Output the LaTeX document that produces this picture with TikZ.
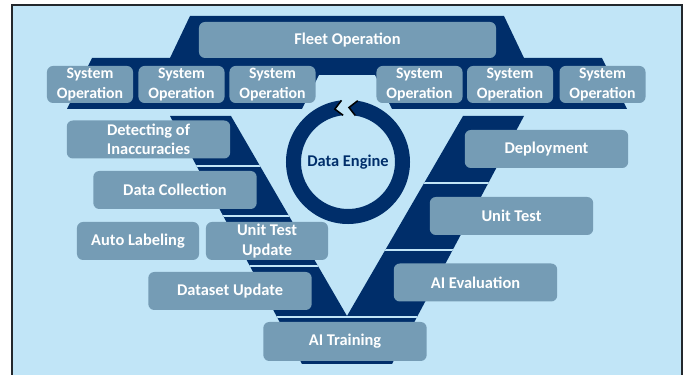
\documentclass[tikz,border=0pt]{standalone}
\usepackage{fontspec}
\setmainfont{Carlito}
\usepackage{xcolor}
\usepackage{tikz}
\usetikzlibrary{shapes,calc}
\definecolor{bgBlue}{RGB}{193,229,247}
\definecolor{deNavy}{RGB}{0,46,106}
\definecolor{boxBlue}{RGB}{117,156,181}
\definecolor{frameGray}{RGB}{35,40,45}
\tikzstyle{tsBoldText} = [
    text=white,
    font=\bfseries\fontsize{14}{16.5}\selectfont
]
\tikzstyle{tsBox} = [
    rectangle,
    tsBoldText,
    rounded corners=0.18cm,
    fill=boxBlue,
    align=center,
    inner sep=0pt]
\tikzstyle{tsStepBox} = [
    tsBox,
    minimum width=4.9cm,
    minimum height=1.14cm]
\tikzstyle{tsHalfBox} = [
    tsBox,
    minimum width=3.66cm,
    minimum height=1.14cm]
\tikzstyle{tsSysBox} = [
    tsBox,
    font=\bfseries\fontsize{13.5}{16.5}\selectfont,
    minimum width=2.58cm,
    minimum height=1.11cm]
\tikzstyle{tsGap} = [
    draw=bgBlue,
    line width=1.7pt]

\begin{document}
\begin{tikzpicture}[x=0.03cm, y=-0.03cm]
        \useasboundingbox (0,0) rectangle (686,375);
        % background and frame
        \fill[white] (0,0) rectangle (686,375);
        \fill[bgBlue] (12,5) rectangle (682,375);
        \draw[frameGray, line width=1.2pt] (12,375) -- (12,5) -- (682,5) -- (682,375);

        % top band behind the operation boxes
        \fill[deNavy] (190,16) -- (504,16) -- (524,58) -- (602,58) -- (627,109)
                   -- (392,109) -- (375,75) -- (319,75) -- (302,109) -- (67,109)
                   -- (92,58) -- (170,58) -- cycle;

        % the V
        \coordinate (vOutL) at (170,116);
        \coordinate (vInL) at (231,116);
        \coordinate (vTip) at (347,316);
        \coordinate (vInR) at (463,116);
        \coordinate (vOutR) at (524,116);
        \coordinate (vBotR) at (392,364);
        \coordinate (vBotL) at (302,364);
        \fill[deNavy] (vOutL) -- (vInL) -- (vTip) -- (vInR) -- (vOutR) -- (vBotR) -- (vBotL) -- cycle;
        \begin{scope}
            \clip (vOutL) -- (vInL) -- (vTip) -- (vInR) -- (vOutR) -- (vBotR) -- (vBotL) -- cycle;
            \draw[tsGap] (100,166) -- (347,166);
            \draw[tsGap] (100,216) -- (347,216);
            \draw[tsGap] (100,266) -- (347,266);
            \draw[tsGap] (347,183) -- (600,183);
            \draw[tsGap] (347,250) -- (600,250);
            \draw[tsGap] (200,317) -- (500,317);
        \end{scope}

        % data engine ring
        \node[font=\bfseries\fontsize{14}{16.5}\selectfont, text=deNavy] (engine) at (348,162) {Data Engine};
        \begin{scope}[shift={(engine.center)}]
            \fill[deNavy] (96:1.86cm) arc[start angle=96, end angle=441, radius=1.86cm]
                       -- (449:1.635cm) -- (441:1.41cm)
                       arc[start angle=441, end angle=96, radius=1.41cm]
                       -- (104:1.635cm) -- cycle;
            \draw[black, line width=1.3pt] (96:1.86cm) -- (104:1.635cm) -- (96:1.41cm);
            \draw[black, line width=1.3pt] (81:1.86cm) -- (89:1.635cm) -- (81:1.41cm);
        \end{scope}

        % operation boxes
        \node[tsBox, minimum width=8.91cm, minimum height=1.08cm] (fleet) at (347.5,40) {Fleet Operation};
        \node[tsSysBox] (sys1) at (90,84.5) {System\\Operation};
        \node[tsSysBox] (sys2) at (181.5,84.5) {System\\Operation};
        \node[tsSysBox] (sys3) at (272.5,84.5) {System\\Operation};
        \node[tsSysBox] (sys4) at (419.5,84.5) {System\\Operation};
        \node[tsSysBox] (sys5) at (510,84.5) {System\\Operation};
        \node[tsSysBox] (sys6) at (602.5,84.5) {System\\Operation};

        % left arm
        \node[tsStepBox] (detect) at (148.5,139.5) {Detecting of\\Inaccuracies};
        \node[tsStepBox] (collect) at (175,190) {Data Collection};
        \node[tsHalfBox] (label) at (138,241) {Auto Labeling};
        \node[tsHalfBox] (utUpdate) at (267,241) {Unit Test\\Update};
        \node[tsStepBox] (dsUpdate) at (230,291) {Dataset Update};
        \node[tsStepBox, minimum height=1.17cm] (training) at (345,341.5) {AI Training};

        % right arm
        \node[tsStepBox] (deploy) at (546.5,149) {Deployment};
        \node[tsStepBox] (unitTest) at (511.5,216) {Unit Test};
        \node[tsStepBox] (evaluation) at (475.5,282.5) {AI Evaluation};
\end{tikzpicture}
\end{document}
